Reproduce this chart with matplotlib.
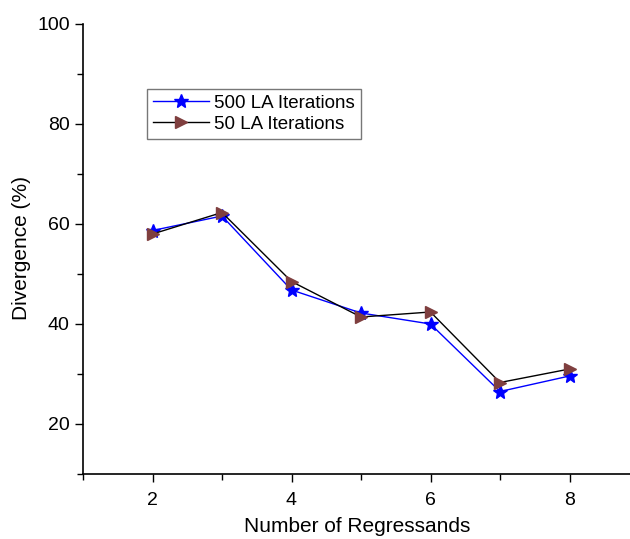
import matplotlib
matplotlib.use("Agg")
import matplotlib.pyplot as plt
from matplotlib.ticker import MultipleLocator

plt.rcParams['font.family'] = ['Liberation Sans', 'DejaVu Sans']

x = [2, 3, 4, 5, 6, 7, 8]
la500 = [58.7, 61.6, 46.8, 42.2, 40.0, 26.5, 29.6]
la50 = [58.0, 62.3, 48.5, 41.4, 42.4, 28.3, 31.0]
labels = ["500 LA Iterations", "50 LA Iterations"]

fig = plt.figure(figsize=(6.30, 5.39), dpi=100)
ax = fig.add_axes([83/630, 1 - 474/539, (630-83)/630, (474-24)/539])

ax.plot(x, la500, color='#0000ff', lw=1, marker='*', ms=10, mfc='#0000ff', mec='#0000ff', label=labels[0])
ax.plot(x, la50, color='black', lw=1, marker='>', ms=8, mfc='#7f3f3f', mec='#7f3f3f', label=labels[1])

ax.set_xlim(1, 1 + (630 - 83) / 69.5)
ax.set_ylim(10, 100)
ax.xaxis.set_major_locator(MultipleLocator(2))
ax.xaxis.set_minor_locator(MultipleLocator(1))
ax.yaxis.set_major_locator(MultipleLocator(20))
ax.yaxis.set_minor_locator(MultipleLocator(10))
ax.set_yticks([20, 40, 60, 80, 100])
ax.spines['top'].set_visible(False)
ax.spines['right'].set_visible(False)
for s in ['left', 'bottom']:
    ax.spines[s].set_linewidth(1.2)
ax.tick_params(which='major', direction='out', length=6, width=1.0, labelsize=14)
ax.tick_params(which='minor', direction='out', length=4, width=1.0)
ax.tick_params(axis='x', pad=7)

ax.set_xlabel("Number of Regressands", fontsize=15)
ax.set_ylabel("Divergence (%)", fontsize=15)
ax.xaxis.set_label_coords((357 - 83) / 547, (474 - 527) / 450)
ax.xaxis.label.set_va('center')
ax.yaxis.set_label_coords((22 - 83) / 547, (474 - 248) / 450)
ax.yaxis.label.set_va('center')

leg = ax.legend(loc='upper left', bbox_to_anchor=((147-83)/547, (474-89)/450),
                fontsize=13.5, frameon=True, fancybox=False, edgecolor='#555555',
                handlelength=3.0, borderpad=0.3, labelspacing=0.22, handletextpad=0.3,
                borderaxespad=0)
leg.get_frame().set_linewidth(1.0)

fig.savefig("out.png", dpi=100)
